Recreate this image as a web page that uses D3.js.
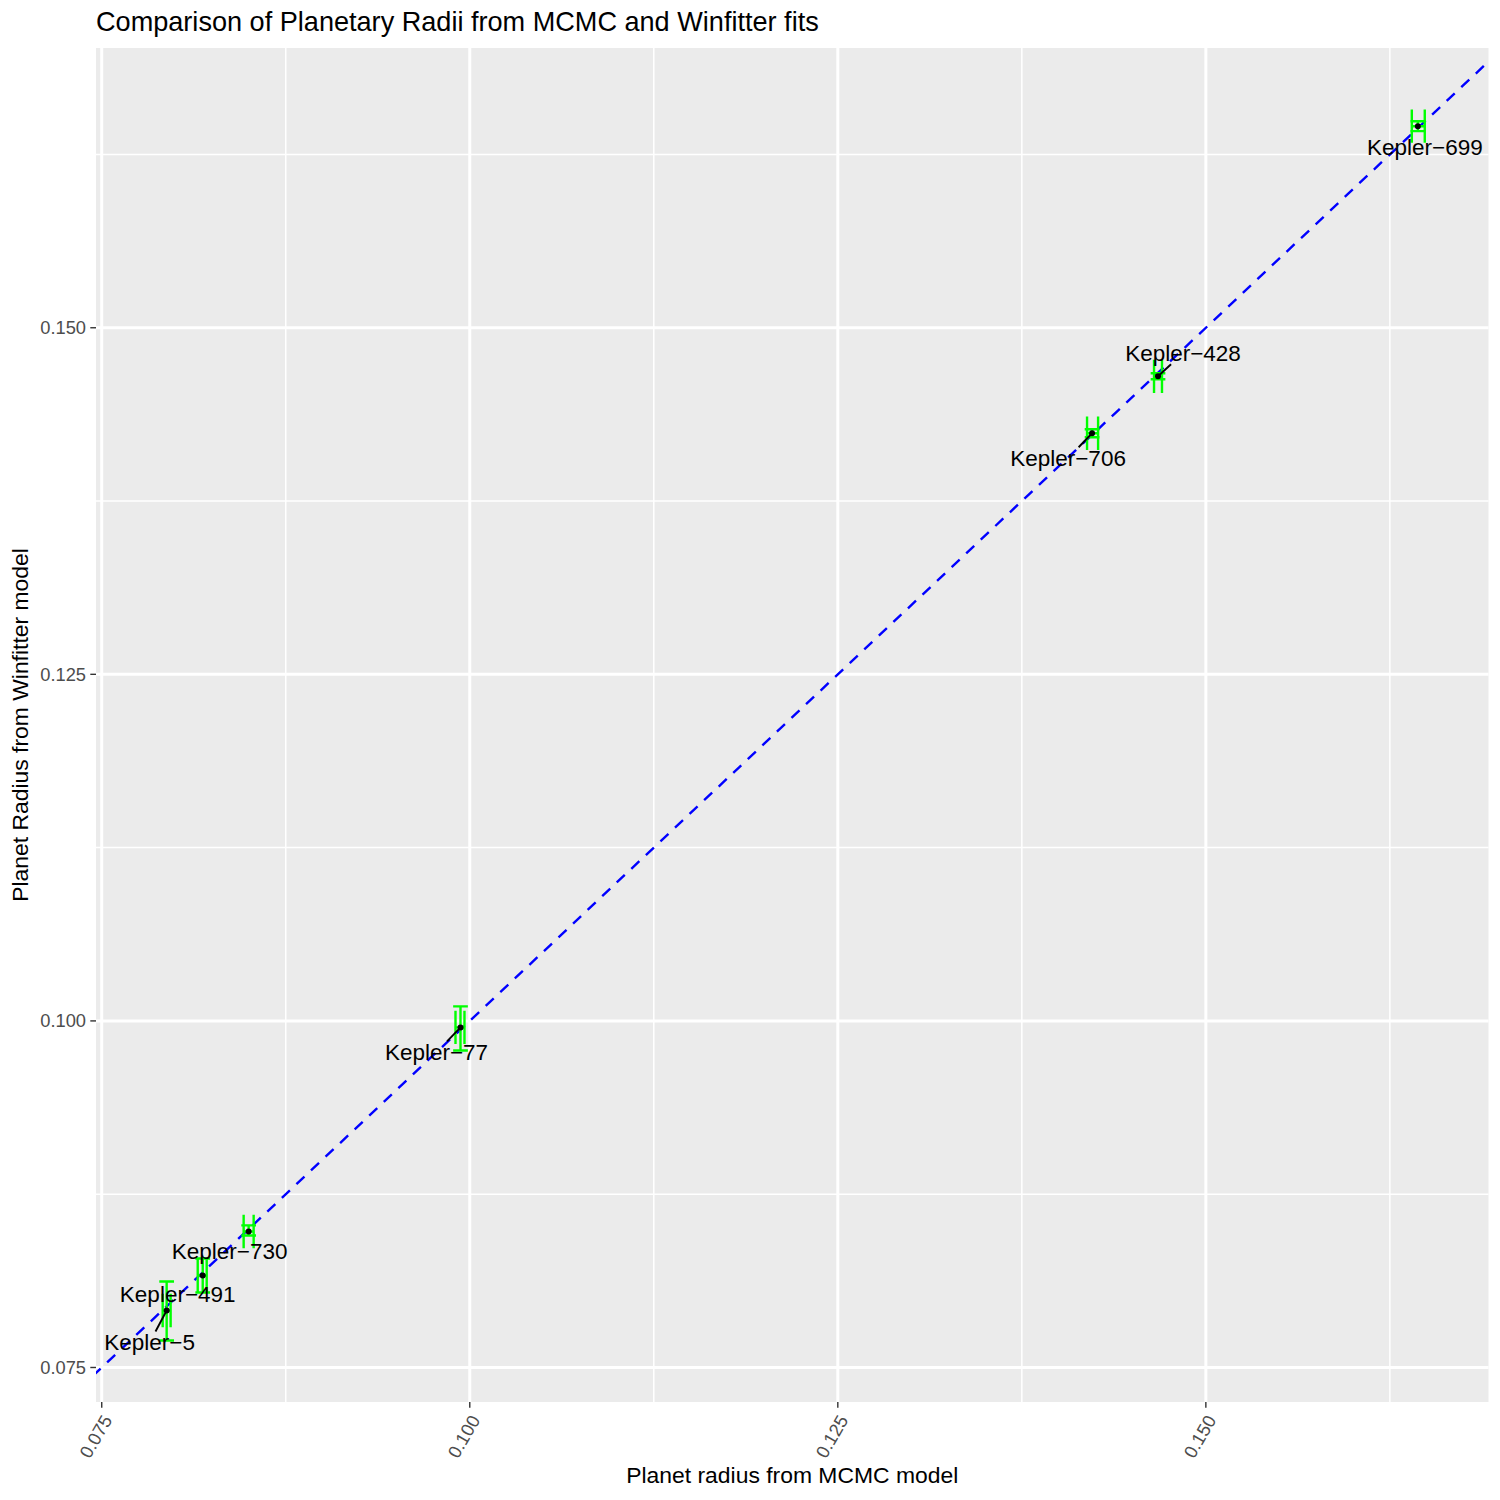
<!DOCTYPE html>
<html>
<head>
<meta charset="utf-8">
<script src="https://cdn.jsdelivr.net/npm/d3@7"></script>
<style>
  body { margin: 0; background: #fff; }
  svg { font-family: "Liberation Sans", Arial, Helvetica, sans-serif; }
</style>
</head>
<body>
<svg id="chart"></svg>
<script>
// planets and fitted radii
var planets   = ["Kepler\u22125", "Kepler\u2212491", "Kepler\u2212730", "Kepler\u221277", "Kepler\u2212706", "Kepler\u2212428", "Kepler\u2212699"];
var mcmcR     = [0.07941, 0.08186, 0.08498, 0.09937, 0.14227, 0.14675, 0.16440];
var mcmcLow   = [0.07914, 0.08152, 0.08464, 0.09903, 0.14193, 0.14648, 0.16399];
var mcmcHigh  = [0.07968, 0.08213, 0.08532, 0.09964, 0.14268, 0.14702, 0.16487];
var winR      = [0.07911, 0.08164, 0.08481, 0.09953, 0.14239, 0.14650, 0.16454];
var winLow    = [0.07695, 0.08041, 0.08452, 0.09787, 0.14210, 0.14628, 0.16418];
var winHigh   = [0.08120, 0.08286, 0.08525, 0.10105, 0.14268, 0.14672, 0.16490];

var majorTicks = [0.075, 0.100, 0.125, 0.150];
var minorTicks = [0.0875, 0.1125, 0.1375, 0.1625];

// label placement as ggrepel left it (pixel nudge of label centre from point)
var labelNudge = [[-17, 32], [-25, 19], [-19, 20], [-24, 25], [-24, 25], [25, -23], [7, 21]];

var width = 1500, height = 1500;
var pLeft = 96, pRight = 1488.5, pTop = 48, pBottom = 1402;
var capW = 0.001;   // errorbar width (x units)
var capH = 0.0024;  // errorbarh height (y units)

var svg = d3.select("#chart").attr("width", width).attr("height", height);

// ggplot-like 5% expansion
function expand(lo, hi) { var d = (hi - lo) * 0.05; return [lo - d, hi + d]; }
var xs = [], ys = [];
for (var i = 0; i < planets.length; i++) {
  xs.push(mcmcLow[i], mcmcHigh[i], mcmcR[i] - capW / 2, mcmcR[i] + capW / 2);
  ys.push(winLow[i], winHigh[i], winR[i] - capH / 2, winR[i] + capH / 2);
}
var x = d3.scaleLinear().domain(expand(d3.min(xs), d3.max(xs))).range([pLeft, pRight]);
var y = d3.scaleLinear().domain(expand(d3.min(ys), d3.max(ys))).range([pBottom, pTop]);

// panel
svg.append("rect").attr("x", pLeft).attr("y", pTop)
  .attr("width", pRight - pLeft).attr("height", pBottom - pTop).attr("fill", "#EBEBEB");

var grid = svg.append("g");
minorTicks.forEach(function (t) {
  grid.append("line").attr("x1", x(t)).attr("x2", x(t)).attr("y1", pTop).attr("y2", pBottom)
    .attr("stroke", "#fff").attr("stroke-width", 1.5);
  grid.append("line").attr("y1", y(t)).attr("y2", y(t)).attr("x1", pLeft).attr("x2", pRight)
    .attr("stroke", "#fff").attr("stroke-width", 1.5);
});
majorTicks.forEach(function (t) {
  grid.append("line").attr("x1", x(t)).attr("x2", x(t)).attr("y1", pTop).attr("y2", pBottom)
    .attr("stroke", "#fff").attr("stroke-width", 3);
  grid.append("line").attr("y1", y(t)).attr("y2", y(t)).attr("x1", pLeft).attr("x2", pRight)
    .attr("stroke", "#fff").attr("stroke-width", 3);
});

// clip for abline
svg.append("clipPath").attr("id", "panel").append("rect")
  .attr("x", pLeft).attr("y", pTop).attr("width", pRight - pLeft).attr("height", pBottom - pTop);

var dx = x.domain(), dy = y.domain();
var a0 = Math.min(dx[0], dy[0]) - 0.01, a1 = Math.max(dx[1], dy[1]) + 0.01;
svg.append("line").attr("clip-path", "url(#panel)")
  .attr("x1", x(a0)).attr("y1", y(a0)).attr("x2", x(a1)).attr("y2", y(a1))
  .attr("stroke", "#0000FF").attr("stroke-width", 2.4).attr("stroke-dasharray", "11,9");

// error bars
var eb = svg.append("g").attr("stroke", "#00FF00").attr("stroke-width", 2.4).attr("fill", "none");
planets.forEach(function (p, i) {
  // vertical (Winfitter)
  var cx = x(mcmcR[i]), cy = y(winR[i]);
  var hw = (x(mcmcR[i] + capW / 2) - x(mcmcR[i] - capW / 2)) / 2;
  eb.append("path").attr("d",
    "M" + (cx - hw) + "," + y(winHigh[i]) + "H" + (cx + hw) +
    "M" + cx + "," + y(winHigh[i]) + "V" + y(winLow[i]) +
    "M" + (cx - hw) + "," + y(winLow[i]) + "H" + (cx + hw));
  // horizontal (MCMC)
  var t = y(winR[i] + capH / 2), b = y(winR[i] - capH / 2);
  eb.append("path").attr("d",
    "M" + x(mcmcLow[i]) + "," + t + "V" + b +
    "M" + x(mcmcLow[i]) + "," + cy + "H" + x(mcmcHigh[i]) +
    "M" + x(mcmcHigh[i]) + "," + t + "V" + b);
});

// points
svg.append("g").selectAll("circle").data(planets).enter().append("circle")
  .attr("cx", function (d, i) { return x(mcmcR[i]); })
  .attr("cy", function (d, i) { return y(winR[i]); })
  .attr("r", 3).attr("fill", "#000");

// repelled labels + segments
var lab = svg.append("g");
planets.forEach(function (p, i) {
  var px = x(mcmcR[i]), py = y(winR[i]);
  var lx = px + labelNudge[i][0], ly = py + labelNudge[i][1];
  var txt = lab.append("text").attr("x", lx).attr("y", ly).attr("dy", "0.35em")
    .attr("text-anchor", "middle").attr("font-size", 22.5).attr("fill", "#000").text(p);
  var bw = txt.node().getComputedTextLength() / 2 + 2, bh = 11;
  var vx = px - lx, vy = py - ly;
  var tt = Math.min(Math.abs(bw / vx), Math.abs(bh / vy));
  var sx = lx + vx * tt, sy = ly + vy * tt;
  var len = Math.hypot(px - sx, py - sy);
  if (len > 15) {
    lab.append("line").attr("x1", sx).attr("y1", sy).attr("x2", px).attr("y2", py)
      .attr("stroke", "#000").attr("stroke-width", 1.9);
  }
});

// axes
var axis = svg.append("g");
majorTicks.forEach(function (t) {
  axis.append("line").attr("x1", x(t)).attr("x2", x(t)).attr("y1", pBottom).attr("y2", pBottom + 5.7)
    .attr("stroke", "#333").attr("stroke-width", 1.4);
  axis.append("text").attr("text-anchor", "end").attr("font-size", 18.3).attr("fill", "#4D4D4D")
    .attr("transform", "translate(" + (x(t) + 11) + "," + (pBottom + 18) + ") rotate(-60)")
    .text(d3.format(".3f")(t));
  axis.append("line").attr("y1", y(t)).attr("y2", y(t)).attr("x1", pLeft - 5.7).attr("x2", pLeft)
    .attr("stroke", "#333").attr("stroke-width", 1.4);
  axis.append("text").attr("x", pLeft - 10).attr("y", y(t)).attr("dy", "0.35em")
    .attr("text-anchor", "end").attr("font-size", 18.3).attr("fill", "#4D4D4D")
    .text(d3.format(".3f")(t));
});

svg.append("text").attr("x", (pLeft + pRight) / 2).attr("y", 1483).attr("text-anchor", "middle")
  .attr("font-size", 22.9).text("Planet radius from MCMC model");
svg.append("text").attr("transform", "translate(28," + (pTop + pBottom) / 2 + ") rotate(-90)")
  .attr("text-anchor", "middle").attr("font-size", 22.9).text("Planet Radius from Winfitter model");
svg.append("text").attr("x", pLeft).attr("y", 31).attr("font-size", 27.1)
  .text("Comparison of Planetary Radii from MCMC and Winfitter fits");
</script>
</body>
</html>
